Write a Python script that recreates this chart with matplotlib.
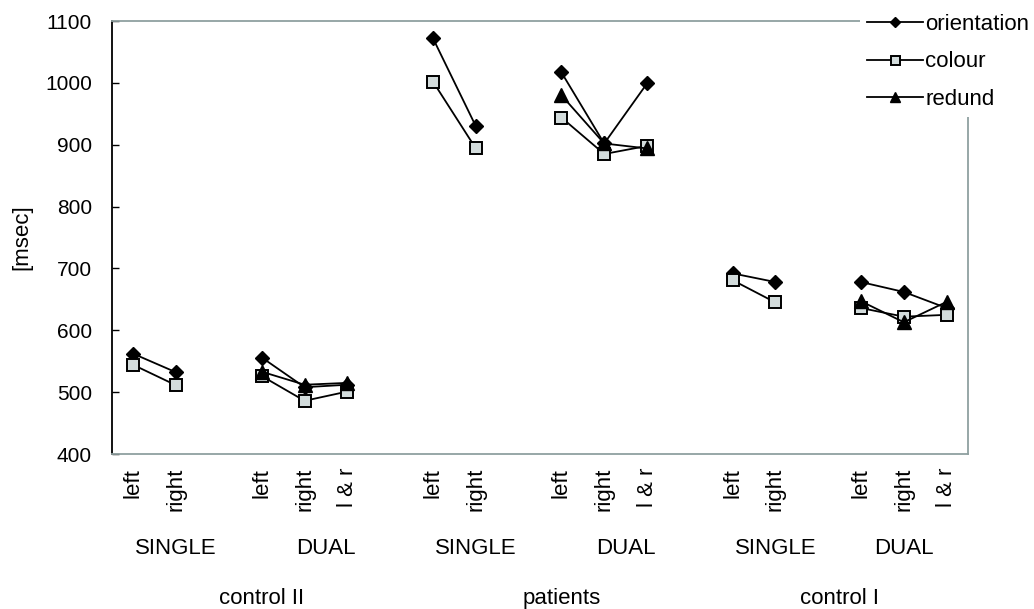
import numpy as np
import matplotlib
matplotlib.use('Agg')
import matplotlib.pyplot as plt

plt.rcParams['font.family'] = ['Liberation Sans', 'DejaVu Sans']

nan = np.nan
# one slot per category, blank slots separate the groups
tick_labels = ['left', 'right', '', 'left', 'right', 'l & r', '',
               'left', 'right', '', 'left', 'right', 'l & r', '',
               'left', 'right', '', 'left', 'right', 'l & r']
orientation = [562, 532, nan, 556, 508, 512, nan,
               1072, 930, nan, 1017, 902, 999, nan,
               692, 678, nan, 678, 662, 636]
colour = [544, 511, nan, 526, 486, 501, nan,
          1002, 894, nan, 944, 885, 898, nan,
          681, 645, nan, 636, 622, 625]
redund = [nan, nan, nan, 533, 512, 515, nan,
          nan, nan, nan, 980, 902, 894, nan,
          nan, nan, nan, 647, 613, 646]

task_labels = ['SINGLE', 'DUAL', 'SINGLE', 'DUAL', 'SINGLE', 'DUAL']
task_spans = [(0, 2), (3, 6), (7, 9), (10, 13), (14, 16), (17, 19)]
group_labels = ['control II', 'patients', 'control I']
group_spans = [(0, 6), (7, 13), (14, 19)]

x = np.arange(len(tick_labels))
frame_col = '#8fa0a0'

fig = plt.figure(figsize=(10.34, 6.09), dpi=100)
ax = fig.add_axes([0.1083, 0.2545, 0.8279, 0.711])

ax.plot(x, orientation, color='black', lw=1.3, marker='D', ms=7.3,
        mfc='black', mec='black', label='orientation')
ax.plot(x, colour, color='black', lw=1.3, marker='s', ms=9,
        mfc='#d3dcdc', mec='black', mew=1.4, label='colour')
ax.plot(x, redund, color='black', lw=1.3, marker='^', ms=9.5,
        mfc='black', mec='black', label='redund')

ax.set_xlim(-0.5, len(tick_labels) - 0.5)
ax.set_ylim(400, 1100)
ax.set_yticks(range(400, 1101, 100))
ax.tick_params(axis='y', direction='in', length=5, width=1, pad=14.4, labelsize=15)
ax.set_xticks(x)
ax.set_xticklabels(tick_labels, rotation=90, va='top', fontsize=16)
ax.tick_params(axis='x', length=0, pad=10)

ax.set_ylabel('[msec]', fontsize=16)
ax.yaxis.set_label_coords(-0.0935, 0.5)

for side in ['top', 'right', 'bottom']:
    ax.spines[side].set_color(frame_col)
    ax.spines[side].set_linewidth(1.3)
ax.spines['left'].set_color('black')
ax.spines['left'].set_linewidth(1.3)

for lab, (a, b) in zip(task_labels, task_spans):
    ax.annotate(lab, xy=((a + b) / 2, 0), xycoords=('data', 'axes fraction'),
                xytext=(0, -67.7), textcoords='offset points',
                ha='center', va='center', fontsize=16)
for lab, (a, b) in zip(group_labels, group_spans):
    ax.annotate(lab, xy=((a + b) / 2, 0), xycoords=('data', 'axes fraction'),
                xytext=(0, -103.7), textcoords='offset points',
                ha='center', va='center', fontsize=16)

leg = fig.legend(loc='upper left', bbox_to_anchor=(0.832, 0.988), fontsize=16,
                 handlelength=2.5, handletextpad=0.12, labelspacing=0.74,
                 borderpad=0.3, borderaxespad=0, markerscale=0.72,
                 frameon=True, fancybox=False)
leg.get_frame().set_facecolor('white')
leg.get_frame().set_edgecolor('none')
leg.get_frame().set_alpha(1)

fig.savefig('out.png', dpi=100)
